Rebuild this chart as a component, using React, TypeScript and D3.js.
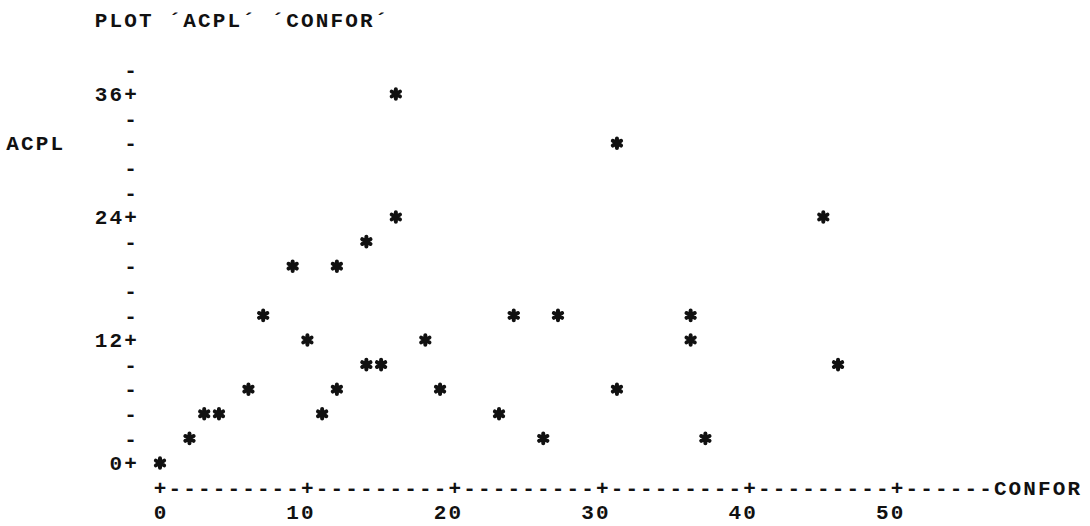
import React, { useEffect, useRef } from 'react';
import * as d3 from 'd3';

// CONFOR (x) and ACPL (y)
const CONFOR = [0, 2, 3, 4, 6, 7, 9, 10, 11, 12, 12, 14, 15, 14, 16, 16, 18, 19, 23, 24, 26, 27, 31, 31, 36, 36, 37, 45, 46];
const ACPL = [0, 2.4, 4.8, 4.8, 7.2, 14.4, 19.2, 12, 4.8, 7.2, 19.2, 9.6, 9.6, 21.6, 36, 24, 12, 7.2, 4.8, 14.4, 2.4, 14.4, 31.2, 7.2, 14.4, 12, 2.4, 24, 9.6];

const xTicks = [0, 10, 20, 30, 40, 50];
const yTicks = [0, 12, 24, 36];
const yTickLabels = ['0', '12', '24', '36'];

const title = "PLOT \u00B4ACPL\u00B4 \u00B4CONFOR\u00B4";
const xName = 'CONFOR';
const yName = 'ACPL';

export default function App() {
  const ref = useRef<SVGSVGElement>(null);

  useEffect(() => {
    const width = 1090, height = 526;
    const svg = d3.select(ref.current)
      .attr('width', width)
      .attr('height', height);
    svg.selectAll('*').remove();

    // one character cell = 1 unit of CONFOR, one line = 2.4 units of ACPL
    const x = d3.scaleLinear().domain([0, 50]).range([160, 897]);
    const y = d3.scaleLinear().domain([0, 36]).range([463, 94]);
    const rowStep = 2.4;
    const row = (r: number) => y(r * rowStep);

    const g = svg.append('g')
      .attr('font-family', '"Liberation Mono", "DejaVu Sans Mono", monospace')
      .attr('font-size', 21)
      .attr('font-weight', 'bold')
      .attr('fill', '#111');

    // put each character of a string in its own column
    const put = (s: string, col: number, r: number) => {
      s.split('').forEach((ch, i) => {
        if (ch === ' ') return;
        g.append('text')
          .attr('x', x(col + i))
          .attr('y', row(r))
          .attr('dy', '0.34em')
          .attr('text-anchor', 'middle')
          .text(ch);
      });
    };

    put(title, -4, 18);

    // y axis: '+' at labelled rows, '-' elsewhere
    const axisCol = -2;
    d3.range(0, 17).forEach((r) => {
      const v = r * rowStep;
      const i = yTicks.findIndex((t) => Math.abs(t - v) < 1e-6);
      if (i >= 0) {
        const lab = yTickLabels[i] + '+';
        put(lab, axisCol - lab.length + 1, r);
      } else {
        put('-', axisCol, r);
      }
    });
    put(yName, -10, 13);

    // x axis line
    d3.range(0, 57).forEach((c) => {
      put(xTicks.includes(c) ? '+' : '-', c, -1);
    });
    put(xName, 57, -1);
    xTicks.forEach((t) => {
      const lab = String(t);
      put(lab, t - lab.length + 1, -2);
    });

    // points
    const star = d3.symbol().type(d3.symbolAsterisk).size(64);
    svg.append('g')
      .selectAll('path')
      .data(CONFOR.map((c, i) => ({ c, a: ACPL[i] })))
      .enter()
      .append('path')
      .attr('transform', (d) => `translate(${x(d.c)},${y(d.a)})`)
      .attr('d', star)
      .attr('fill', 'none')
      .attr('stroke', '#111')
      .attr('stroke-width', 4)
      .attr('stroke-linecap', 'round');
  }, []);

  return (
    <svg ref={ref} style={{ position: 'absolute', left: 0, top: 0, background: '#fff' }}></svg>
  );
}
